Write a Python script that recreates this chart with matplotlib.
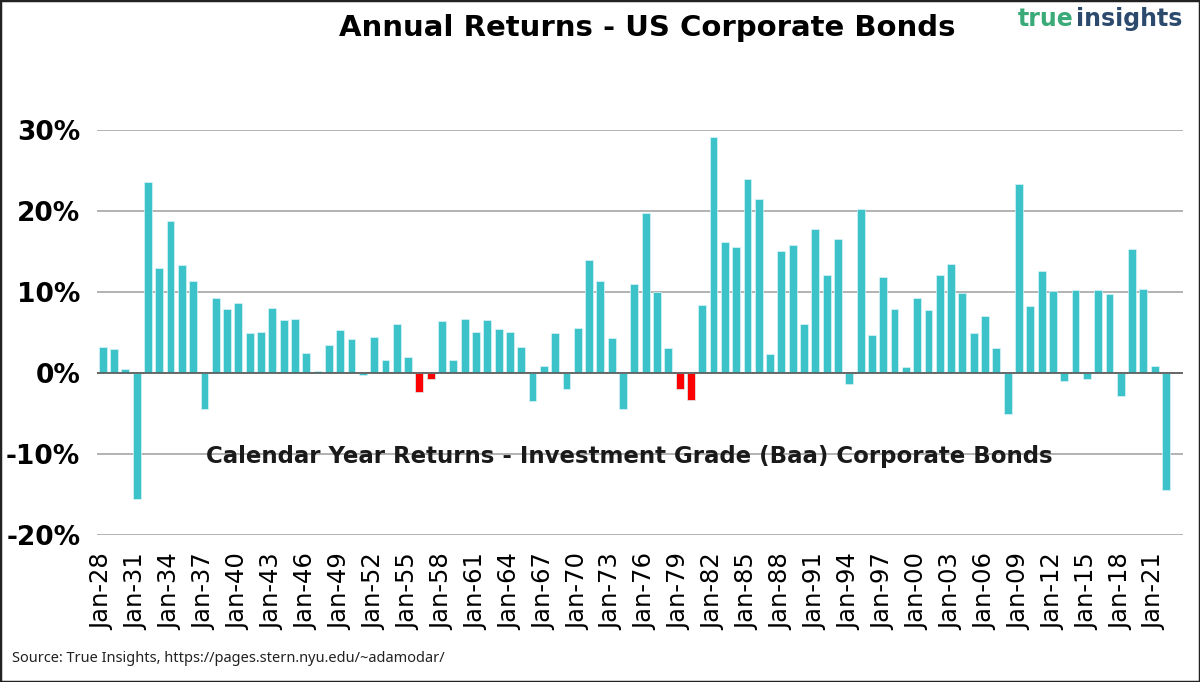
import numpy as np
import matplotlib
matplotlib.use("Agg")
import matplotlib.pyplot as plt
from matplotlib.ticker import FuncFormatter

# calendar year returns, Baa corporate bonds (% per year)
years = list(range(1928, 2023))
returns = [
    3.2, 3.0, 0.5, -15.6, 23.6, 13.0, 18.8, 13.3, 11.4, -4.4,
    9.2, 7.9, 8.6, 5.0, 5.1, 8.0, 6.5, 6.7, 2.5, 0.2,
    3.4, 5.3, 4.2, -0.2, 4.4, 1.6, 6.1, 2.0, -2.3, -0.7,
    6.4, 1.6, 6.7, 5.1, 6.5, 5.4, 5.1, 3.2, -3.5, 0.9,
    4.9, -2.0, 5.6, 14.0, 11.4, 4.3, -4.4, 11.0, 19.8, 10.0,
    3.1, -2.0, -3.3, 8.4, 29.1, 16.2, 15.6, 23.9, 21.5, 2.3,
    15.1, 15.8, 6.1, 17.8, 12.1, 16.5, -1.3, 20.2, 4.7, 11.8,
    7.9, 0.8, 9.3, 7.8, 12.1, 13.5, 9.9, 4.9, 7.0, 3.1,
    -5.1, 23.3, 8.3, 12.6, 10.1, -1.0, 10.3, -0.7, 10.3, 9.7,
    -2.8, 15.3, 10.4, 0.9, -14.5,
]
red_years = [1956, 1957, 1979, 1980]
tick_years = list(range(1928, 2023, 3))

teal = "#3cc3c9"
colors = ["#ff0000" if y in red_years else teal for y in years]

fig = plt.figure(figsize=(12, 6.82), dpi=100)
ax = fig.add_axes([97 / 1200, 1 - 535 / 682, (1183 - 97) / 1200, (535 - 130) / 682])

x = np.arange(len(years))
ax.bar(x, returns, width=0.7, color=colors, edgecolor="#d8f4f5", linewidth=0.5, zorder=3)

ax.set_xlim(-0.5, len(years) + 0.5)
ax.set_ylim(-20, 30)
ax.set_yticks([-20, -10, 0, 10, 20, 30])
ax.yaxis.set_major_formatter(FuncFormatter(lambda v, p: f"{v:.0f}%"))
ax.grid(axis="y", color="#a6a6a6", linewidth=1.2, zorder=0)
ax.axhline(0, color="#5a5a5a", linewidth=1.2, zorder=4)
for s in ax.spines.values():
    s.set_visible(False)
ax.tick_params(axis="y", length=0, pad=12, labelsize=19)
for lab in ax.get_yticklabels():
    lab.set_fontweight("bold")

ax.set_xticks([years.index(y) for y in tick_years])
ax.set_xticklabels([f"Jan-{y % 100:02d}" for y in tick_years], rotation=90, fontsize=17.5)
ax.tick_params(axis="x", length=0, pad=13)

ax.text(0.49, 0.195, "Calendar Year Returns - Investment Grade (Baa) Corporate Bonds",
        transform=ax.transAxes, ha="center", va="center", fontsize=16.5,
        fontweight="bold", color="#1a1a1a", zorder=5)

fig.text(647 / 1200, 1 - 28 / 682, "Annual Returns - US Corporate Bonds",
         ha="center", va="center", fontsize=21, fontweight="bold")

t1 = fig.text(1018 / 1200, 1 - 19 / 682, "true", ha="left", va="center",
              fontsize=17, fontweight="bold", color="#3aaa78")
fig.canvas.draw()
bb = t1.get_window_extent()
fig.text(bb.x1 / 1200 + 0.002, 1 - 19 / 682, "insights", ha="left", va="center",
         fontsize=17, fontweight="bold", color="#2b4a6e")

fig.text(12 / 1200, 1 - 658 / 682, "Source: True Insights, https://pages.stern.nyu.edu/~adamodar/",
         ha="left", va="center", fontsize=10.5, family="Noto Sans", color="#222222")

fig.patches.append(plt.Rectangle((0, 0), 1, 1, transform=fig.transFigure, fill=False,
                                 edgecolor="#222222", linewidth=2.5))

fig.savefig("out.png", dpi=100)
